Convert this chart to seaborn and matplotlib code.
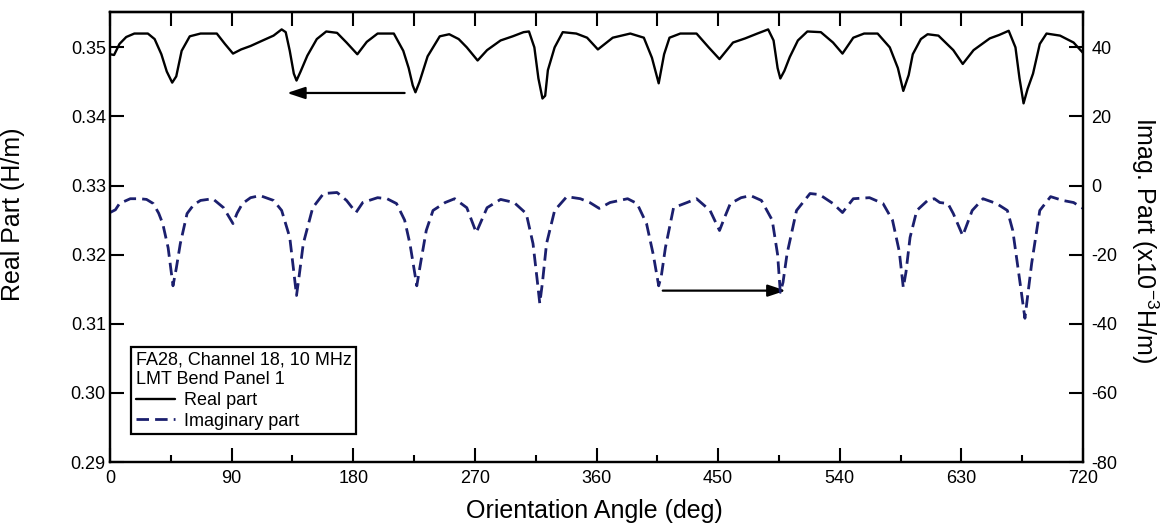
import numpy as np
import pandas as pd
import matplotlib
matplotlib.use("Agg")
import matplotlib.pyplot as plt
import seaborn as sns

# ---------------- data ----------------
real_deg = [0, 3, 7, 12, 18, 28, 33, 38, 42, 46, 49, 53, 59, 67, 79, 85, 91, 97, 104, 113,
            121, 127, 130, 133, 136, 138, 141, 146, 153, 160, 168, 175, 183, 190, 198, 210,
            217, 221, 224, 226, 229, 235, 244, 251, 258, 264, 272, 279, 289, 298, 306, 310,
            314, 317, 320, 322, 324, 329, 335, 345, 353, 361, 372, 385, 395, 401, 406, 410,
            414, 422, 434, 443, 451, 461, 470, 479, 487, 491, 494, 496, 499, 503, 509, 516,
            526, 535, 542, 550, 558, 568, 577, 583, 587, 591, 594, 600, 605, 613, 624, 631,
            639, 651, 658, 665, 670, 673, 676, 679, 683, 688, 693, 703, 713, 720]
real_val = [0.3490, 0.3489, 0.3505, 0.3515, 0.3520, 0.3520, 0.3512, 0.3490, 0.3465, 0.3449,
            0.3458, 0.3495, 0.3516, 0.3520, 0.3520, 0.3505, 0.3491, 0.3497, 0.3502, 0.3510,
            0.3517, 0.3526, 0.3522, 0.3495, 0.3462, 0.3452, 0.3465, 0.3488, 0.3512, 0.3523,
            0.3521, 0.3507, 0.3490, 0.3508, 0.3520, 0.3520, 0.3495, 0.3470, 0.3445, 0.3435,
            0.3450, 0.3487, 0.3516, 0.3519, 0.3512, 0.3500, 0.3481, 0.3496, 0.3510, 0.3516,
            0.3522, 0.3523, 0.3500, 0.3455, 0.3426, 0.3430, 0.3467, 0.3500, 0.3522, 0.3520,
            0.3514, 0.3497, 0.3514, 0.3520, 0.3514, 0.3485, 0.3448, 0.3490, 0.3514, 0.3520,
            0.3520, 0.3500, 0.3483, 0.3507, 0.3513, 0.3520, 0.3526, 0.3510, 0.3470, 0.3455,
            0.3466, 0.3486, 0.3510, 0.3523, 0.3522, 0.3507, 0.3491, 0.3514, 0.3520, 0.3520,
            0.3500, 0.3470, 0.3437, 0.3460, 0.3490, 0.3512, 0.3519, 0.3517, 0.3496, 0.3476,
            0.3496, 0.3513, 0.3518, 0.3524, 0.3500, 0.3455, 0.3419, 0.3440, 0.3462, 0.3505,
            0.3520, 0.3517, 0.3507, 0.3492]

imag_deg = [0, 4, 7, 15, 22, 27, 32, 36, 39, 43, 46.6, 49, 52, 57, 62, 67, 76, 84, 91, 94,
            98, 104, 111, 121, 127, 133, 136, 138, 140, 143, 150, 158, 168, 175, 182, 187,
            198, 205, 212, 218, 222, 227, 230, 234, 239, 248, 255, 264, 271, 275, 279, 289,
            299, 308, 313, 316, 318, 320, 323, 329, 338, 348, 355, 362, 370, 383, 390, 397,
            402, 406, 408, 411, 417, 427, 434, 444, 451, 455, 459, 467, 474, 482, 490, 494,
            496, 498, 501, 508, 518, 525, 535, 542, 550, 562, 572, 579, 584, 587, 589, 592,
            597, 605, 610, 614, 620, 624, 631, 638, 646, 656, 664, 668, 673, 677, 679, 682,
            688, 696, 705, 713, 720]
imag_val = [-7.8, -7.0, -5.2, -3.8, -3.8, -4.0, -5.2, -8, -11, -18, -29, -24, -16.8, -8.1,
            -5.5, -4.3, -3.8, -6.4, -11, -8, -5.2, -3.5, -2.9, -4.3, -7.2, -15, -25, -31.8,
            -26, -16.8, -6.4, -2.3, -2.0, -4.3, -7.8, -4.9, -3.5, -3.8, -5.2, -10, -17, -29,
            -22, -13, -7.2, -4.9, -3.8, -6.4, -13.6, -10, -6.4, -4.0, -4.9, -8.1, -16.8, -27,
            -34.1, -28, -16.8, -7.2, -3.2, -3.8, -4.9, -6.6, -4.9, -3.8, -5.2, -11, -20, -29,
            -26, -17.9, -6.4, -4.9, -3.8, -7.2, -13, -9, -5.2, -3.5, -2.9, -4.3, -10, -20,
            -30.9, -28, -19.7, -7.2, -2.3, -2.6, -5.2, -7.8, -3.8, -3.5, -5.2, -10, -19, -29.5,
            -25, -15, -7.2, -4.3, -3.8, -4.9, -5.2, -8.1, -14.5, -7.2, -3.8, -5.2, -7.2, -13,
            -27, -38.4, -32, -22.5, -7.2, -3.2, -4.3, -4.9, -6.6]

x_ticks = [0, 90, 180, 270, 360, 450, 540, 630, 720]
left_ticks = [0.29, 0.30, 0.31, 0.32, 0.33, 0.34, 0.35]
right_ticks = [-80, -60, -40, -20, 0, 20, 40]

legend_title = "FA28, Channel 18, 10 MHz\nLMT Bend Panel 1"
real_label = "Real part"
imag_label = "Imaginary part"

# arrows (start angle, end angle, level on left axis)
arrow_left = (218, 131, 0.3434)
arrow_right = (409, 500, 0.3148)

df_real = pd.DataFrame({"deg": real_deg, "val": real_val})
df_imag = pd.DataFrame({"deg": imag_deg, "val": imag_val})

# ---------------- style ----------------
sns.set_theme(style="ticks")
plt.rcParams["font.family"] = ["Liberation Sans", "DejaVu Sans"]
plt.rcParams["mathtext.fontset"] = "custom"
plt.rcParams["mathtext.rm"] = "Liberation Sans"
plt.rcParams["axes.unicode_minus"] = False
plt.rcParams["axes.linewidth"] = 1.6
for key in ("text.color", "axes.labelcolor", "xtick.color", "ytick.color",
            "legend.labelcolor", "axes.edgecolor"):
    plt.rcParams[key] = "black"

navy = "#1b1f6e"

fig = plt.figure(figsize=(11.73, 5.27), dpi=100)
ax = fig.add_axes([0.0938, 0.1233, 0.8295, 0.8537])
ax2 = ax.twinx()

sns.lineplot(data=df_real, x="deg", y="val", ax=ax, color="black", lw=1.7,
             label=real_label, legend=False, sort=False)
sns.lineplot(data=df_imag, x="deg", y="val", ax=ax2, color=navy, lw=2.0,
             label=imag_label, legend=False, sort=False, linestyle=(0, (4.5, 2.2)))

ax.set_xlim(0, 720)
ax.set_ylim(0.29, 0.3551)
ax2.set_ylim(-80, 50.2)

ax.set_xticks(x_ticks)
ax.set_xticks(np.arange(45, 720, 90), minor=True)
ax.set_yticks(left_ticks)
ax.set_yticklabels([f"{v:.2f}" for v in left_ticks])
ax2.set_yticks(right_ticks)

ax.tick_params(axis="x", which="major", direction="in", length=10, width=1.5,
               labelsize=13, pad=6, bottom=True, top=False, colors="black")
ax.tick_params(axis="x", which="minor", direction="in", length=5, width=1.5,
               bottom=True, top=False)
ax.tick_params(axis="y", which="major", direction="in", length=10, width=1.5,
               labelsize=13, pad=3, left=True, right=False, colors="black")
ax2.tick_params(axis="y", which="major", direction="in", length=10, width=1.5,
                labelsize=13, pad=6, colors="black")

secx = ax.secondary_xaxis("top")
secx.set_xticks(np.arange(0, 721, 45))
secx.tick_params(direction="in", length=10, width=1.5, labeltop=False)

for a in (ax, ax2):
    for s in a.spines.values():
        s.set_linewidth(1.6)
        s.set_color("black")

ax.set_xlabel("Orientation Angle (deg)", fontsize=18, color="black")
ax.set_ylabel("Real Part (H/m)", fontsize=18, color="black")
ax2.set_ylabel("Imag. Part (x10$^{-3}$H/m)", fontsize=18, rotation=270, color="black")
ax.xaxis.set_label_coords(0.498, -0.082)
ax.yaxis.set_label_coords(-0.087, 0.55)
ax2.yaxis.set_label_coords(1.08, 0.493)

# arrows
for x0, x1, yv in (arrow_left, arrow_right):
    ax.annotate("", xy=(x1, yv), xytext=(x0, yv),
                arrowprops=dict(arrowstyle="-|>,head_length=0.9,head_width=0.3",
                                color="black", lw=1.6, shrinkA=0, shrinkB=0))

# legend
h1, l1 = ax.get_legend_handles_labels()
h2, l2 = ax2.get_legend_handles_labels()
leg = ax2.legend(h1 + h2, l1 + l2, title=legend_title, loc="lower left",
                 bbox_to_anchor=(0.0216, 0.062), borderaxespad=0, fontsize=13,
                 title_fontsize=13, alignment="left", frameon=True, fancybox=False,
                 framealpha=1, edgecolor="black", handlelength=2.2, handletextpad=0.5,
                 labelspacing=0.2, borderpad=0.25)
leg.get_frame().set_linewidth(1.6)
leg.get_title().set_color("black")
for t in leg.get_texts():
    t.set_color("black")

fig.savefig("out.png", dpi=100)
